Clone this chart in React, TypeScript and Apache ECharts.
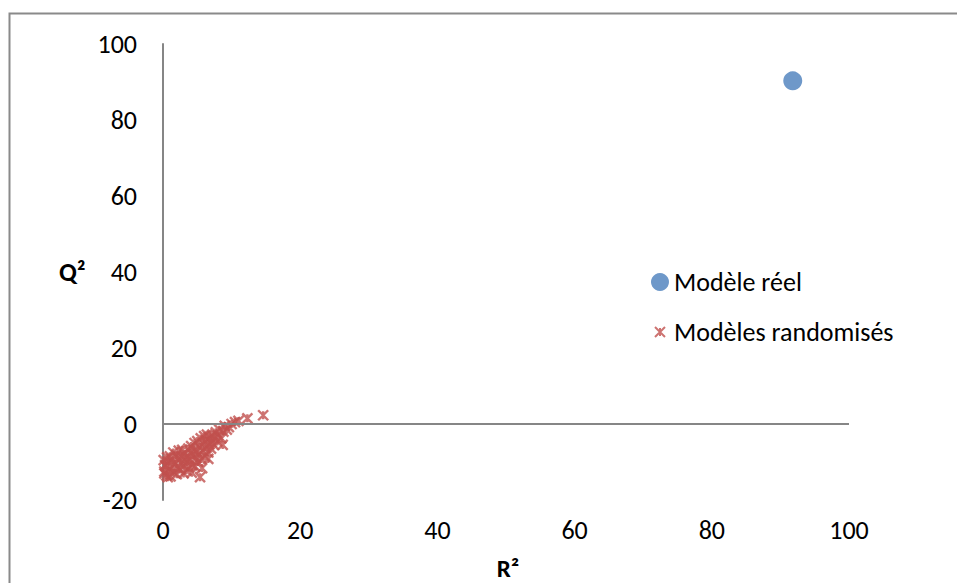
import React, { useEffect, useRef } from "react";
import * as echarts from "echarts";

const realR2 = [91.8];
const realQ2 = [90.3];

const randR2 = [0.1, 0.2, 0.2, 0.3, 0.4, 0.5, 0.6, 0.7, 0.8, 0.9, 1.0, 1.1, 1.3, 1.4, 1.5, 1.6, 1.8, 1.9, 2.0, 2.1, 2.2, 2.3, 2.5, 2.6, 2.7, 2.8, 3.0, 3.0, 3.1, 3.2, 3.4, 3.5, 3.6, 3.7, 3.8, 4.0, 4.0, 4.1, 4.2, 4.3, 4.4, 4.5, 4.6, 4.7, 4.8, 4.9, 5.0, 5.1, 5.2, 5.3, 5.4, 5.5, 5.6, 5.7, 5.8, 5.9, 6.0, 6.1, 6.2, 6.3, 6.4, 6.6, 6.6, 6.7, 6.8, 7.0, 7.1, 7.2, 7.4, 7.5, 7.7, 7.9, 8.0, 8.2, 8.5, 8.7, 8.8, 9.0, 9.3, 9.6, 10.0, 10.5, 11.0, 12.3, 14.6];
const randQ2 = [-9.5, -12.5, -13.0, -10.8, -11.0, -13.5, -8.8, -14.0, -10.0, -12.0, -8.5, -13.8, -11.2, -9.5, -7.5, -12.8, -10.5, -8.2, -13.2, -11.5, -9.0, -7.0, -12.0, -10.2, -8.5, -6.8, -13.0, -11.0, -9.3, -7.8, -12.2, -10.0, -8.8, -6.5, -11.5, -9.5, -7.5, -5.8, -12.8, -10.8, -8.2, -6.8, -5.0, -11.2, -9.0, -7.2, -4.5, -10.0, -8.0, -6.0, -14.0, -3.8, -9.2, -11.6, -7.0, -5.2, -3.2, -8.5, -6.2, -4.3, -2.8, -9.2, -7.5, -5.5, -3.5, -6.5, -4.8, -2.8, -5.5, -3.8, -2.2, -4.6, -3.0, -1.5, -3.8, -5.5, -2.0, -0.5, -1.5, -0.8, 0.0, 0.5, 0.8, 1.5, 2.3];

const xTicks = [0, 20, 40, 60, 80, 100];
const yTicks = [-20, 0, 20, 40, 60, 80, 100];

const starPath = "path://M0,0L10,10M10,0L0,10M5,1L5,9";
const starLegendPath = "path://M4,4L14,14M14,4L4,14M9,5L9,13M0,0L0,0.001M18,18L18,18.001";

export default function App() {
  const ref = useRef<HTMLDivElement>(null);
  useEffect(() => {
    const chart = echarts.init(ref.current!, null, { renderer: "svg" });
    const font = "Carlito, Lato, 'Open Sans', 'Liberation Sans', sans-serif";
    chart.setOption({
      animation: false,
      textStyle: { fontFamily: font },
      grid: { left: 163, right: 108, top: 44, bottom: 83 },
      xAxis: {
        type: "value",
        min: xTicks[0],
        max: xTicks[xTicks.length - 1],
        interval: 20,
        axisLine: { show: false },
        axisTick: { show: false },
        splitLine: { show: false },
        axisLabel: { fontSize: 26, color: "#000", margin: 17, fontFamily: font },
      },
      yAxis: {
        type: "value",
        min: yTicks[0],
        max: yTicks[yTicks.length - 1],
        interval: 20,
        axisLine: { show: true, onZero: false, lineStyle: { color: "#868686", width: 2 } },
        axisTick: { show: false },
        splitLine: { show: false },
        axisLabel: { fontSize: 26, color: "#000", margin: 26, fontFamily: font },
      },
      legend: {
        orient: "vertical",
        left: 645,
        top: 264,
        itemGap: 24,
        itemWidth: 18,
        itemHeight: 18,
        textStyle: { fontSize: 26, color: "#000", fontFamily: font, padding: [0, 0, 0, 0] },
        data: [
          { name: "Modèle réel", icon: "circle" },
          { name: "Modèles randomisés", icon: starLegendPath, itemStyle: { color: "rgba(0,0,0,0)", borderColor: "#C0504D", borderWidth: 2 } },
        ],
      },
      graphic: [
        {
          type: "rect",
          shape: { x: 9.5, y: 13.5, width: 1000, height: 700 },
          style: { fill: "none", stroke: "#8a8a8a", lineWidth: 2 },
          silent: true,
        },
        {
          type: "text",
          x: 59,
          y: 272,
          style: { text: "Q²", font: "bold 26px " + font, fill: "#000", verticalAlign: "middle" },
        },
        {
          type: "text",
          x: 508,
          y: 568,
          style: { text: "R²", font: "bold 25px " + font, fill: "#000", align: "center", verticalAlign: "middle" },
        },
      ],
      series: [
        {
          name: "Modèles randomisés",
          type: "scatter",
          symbol: starPath,
          symbolSize: 10,
          itemStyle: { color: "rgba(0,0,0,0)", borderColor: "#C0504D", borderWidth: 2.4 },
          data: randR2.map((x, i) => [x, randQ2[i]]),
          markLine: {
            silent: true,
            symbol: "none",
            label: { show: false },
            lineStyle: { color: "#868686", width: 2, type: "solid" },
            data: [[{ coord: [0, 0] }, { coord: [100, 0] }]],
          },
          z: 3,
        },
        {
          name: "Modèle réel",
          type: "scatter",
          symbol: "circle",
          symbolSize: 19,
          itemStyle: { color: "#4A7EBB" },
          data: realR2.map((x, i) => [x, realQ2[i]]),
          z: 4,
        },
      ],
    });
    return () => chart.dispose();
  }, []);
  return <div ref={ref} style={{ width: 957, height: 583, position: "absolute", left: 0, top: 0 }} />;
}
